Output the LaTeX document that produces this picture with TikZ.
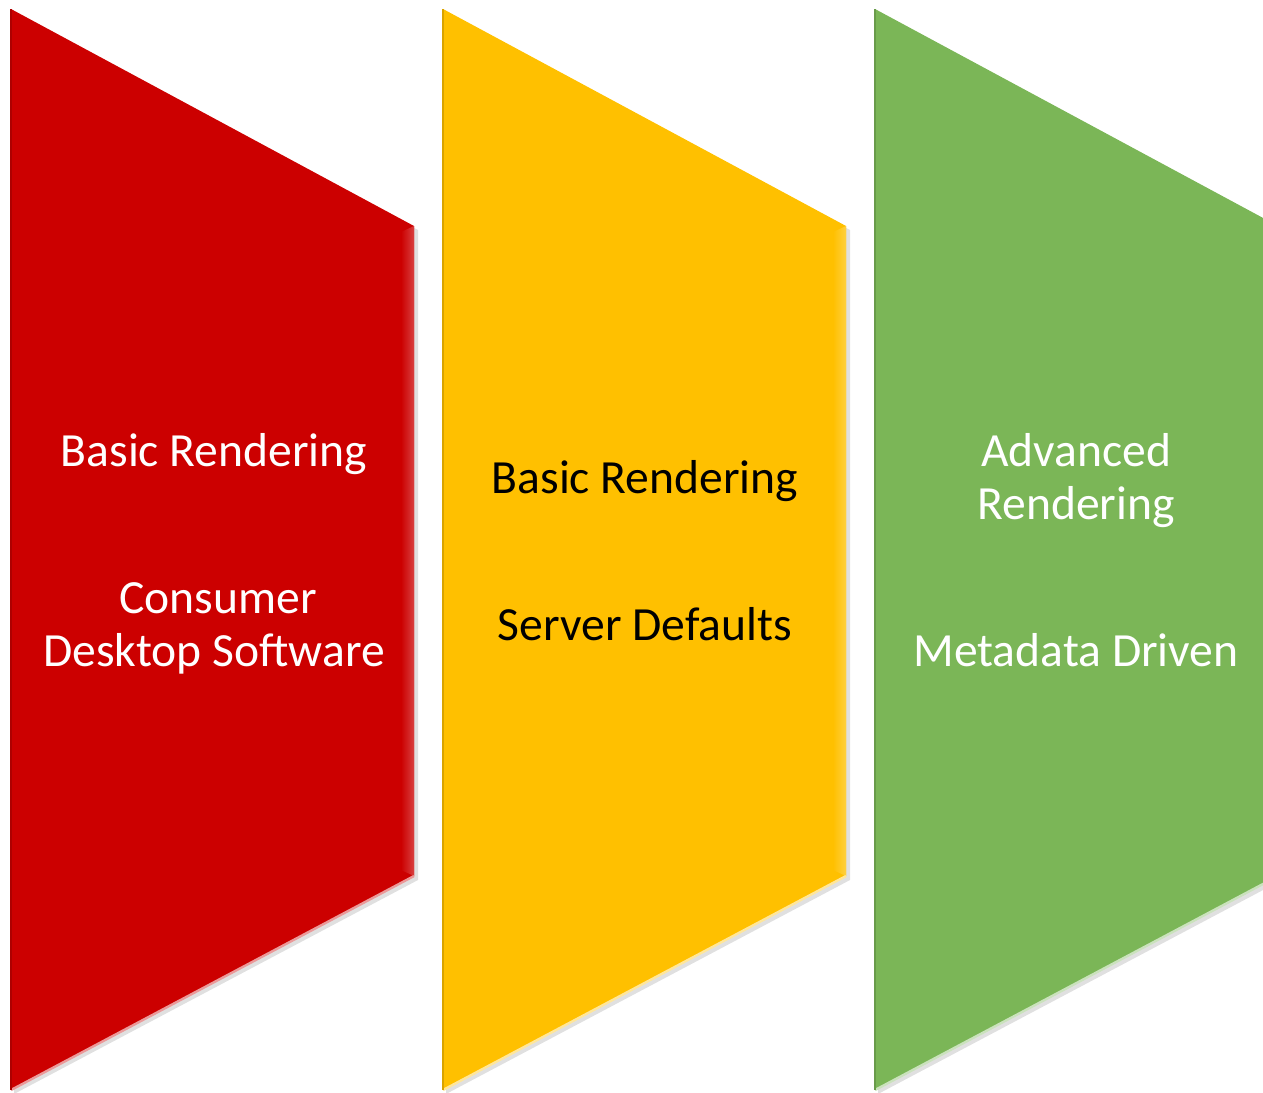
\documentclass[tikz,border=0pt]{standalone}
\usepackage{fontspec}
\setmainfont{Carlito}
\usepackage{tikz}
\usetikzlibrary{positioning, calc}
\definecolor{panelRed}{RGB}{204,0,0}
\definecolor{panelYellow}{RGB}{255,192,0}
\definecolor{panelGreen}{RGB}{123,182,87}

\begin{document}
\begin{tikzpicture}[x=0.5pt, y=-0.5pt,
    label/.style={anchor=base, inner sep=0pt, font=\fontsize{23.8}{26.5}\selectfont, text=white},
    darklabel/.style={label, text=black},
    shadowpanel/.style={fill=black, opacity=0.12}
]
\useasboundingbox (0,0) rectangle (1263,1092);
\clip (0,0) rectangle (1263,1092);

% Chevron panels - using loop
\foreach \x/\col in {11/panelRed, 443/panelYellow, 875/panelGreen} {
    % soft shadow
    \fill[shadowpanel] (\x+3,13) -- (\x+407,230) -- (\x+407,880) -- (\x+3,1094) -- cycle;
    % panel body
    \fill[\col] (\x,9) -- (\x+403,226) -- (\x+403,876) -- (\x,1090) -- cycle;
    % bevel on the right edge
    \shade[left color=\col, middle color=\col!35!white, right color=\col!75!white]
        (\x+390,232) -- (\x+403,226) -- (\x+403,876) -- (\x+390,870) -- cycle;
    % light rim along the lower edge
    \draw[\col!40!white, line width=1.2pt] (\x+403,876) -- (\x,1090);
    \draw[\col!85!black, line width=0.6pt] (\x,9) -- (\x,1090);
}

% Red panel texts
\node[label] (redTop) at (214,466) {Basic Rendering};
\node[label] (redMidA) at (218,613) {Consumer};
\node[label] (redMidB) at (214,666) {Desktop Software};

% Yellow panel texts
\node[darklabel] (yellowTop) at (645,493) {Basic Rendering};
\node[darklabel] (yellowMid) at (645,640) {Server Defaults};

% Green panel texts
\node[label] (greenTopA) at (1076,466) {Advanced};
\node[label] (greenTopB) at (1076,519) {Rendering};
\node[label] (greenMid) at (1076,666) {Metadata Driven};

\end{tikzpicture}
\end{document}
